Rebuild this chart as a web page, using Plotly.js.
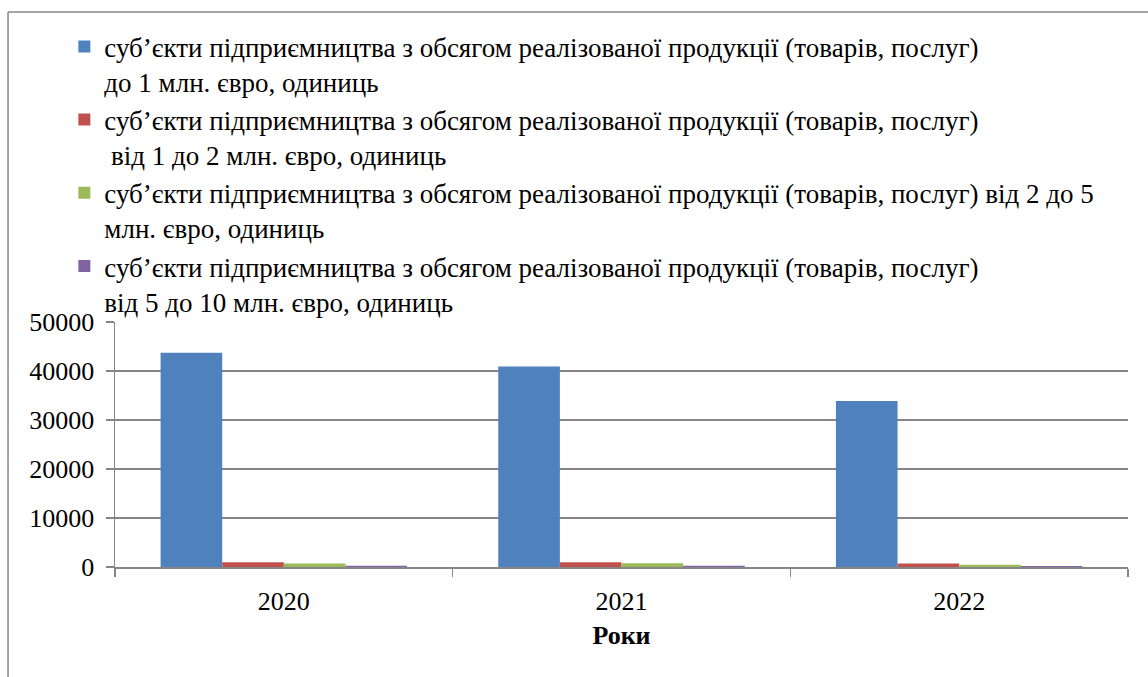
<!DOCTYPE html>
<html>
<head>
<meta charset="utf-8">
<script src="https://cdn.plot.ly/plotly-3.0.1.min.js"></script>
<style>
html,body{margin:0;padding:0;background:#fff;}
#chart{width:1148px;height:677px;}
</style>
</head>
<body>
<div id="chart"></div>
<script>
const years = ['2020', '2021', '2022'];
const seriesNames = [
  'суб’єкти підприємництва з обсягом реалізованої продукції (товарів, послуг)<br>до 1 млн. євро, одиниць',
  'суб’єкти підприємництва з обсягом реалізованої продукції (товарів, послуг)<br> від 1 до 2 млн. євро, одиниць',
  'суб’єкти підприємництва з обсягом реалізованої продукції (товарів, послуг) від 2 до 5<br>млн. євро, одиниць',
  'суб’єкти підприємництва з обсягом реалізованої продукції (товарів, послуг)<br>від 5 до 10 млн. євро, одиниць'
];
const upTo1 = [43700, 40900, 33900];
const from1to2 = [960, 980, 700];
const from2to5 = [700, 760, 480];
const from5to10 = [270, 280, 200];
const colors = ['#4F81BD', '#C0504D', '#9BBB59', '#8064A2'];
const seriesValues = [upTo1, from1to2, from2to5, from5to10];

const font = 'Liberation Serif, serif';
const fs = 26;
const traces = seriesValues.map((vals, i) => ({
  type: 'bar',
  x: years,
  y: vals,
  name: seriesNames[i],
  marker: {color: colors[i]}
}));

const layout = {
  width: 1148,
  height: 677,
  margin: {l: 115, r: 20, t: 322, b: 110},
  paper_bgcolor: '#ffffff',
  plot_bgcolor: '#ffffff',
  font: {family: font, size: fs, color: '#000'},
  barmode: 'group',
  bargap: 0.27,
  bargroupgap: 0,
  showlegend: true,
  legend: {
    x: -0.05, xanchor: 'left',
    y: 2.223, yanchor: 'top',
    bgcolor: 'rgba(0,0,0,0)',
    font: {family: font, size: 27, color: '#000'},
    tracegroupgap: 13,
    valign: 'top',
    itemwidth: 30
  },
  xaxis: {
    type: 'category',
    showline: true,
    linecolor: '#868686',
    linewidth: 1.5,
    ticks: 'outside',
    tickson: 'boundaries',
    ticklen: 8,
    tickcolor: '#868686',
    tickwidth: 1.5,
    ticklabelstandoff: 10,
    showgrid: false,
    tickfont: {family: font, size: fs, color: '#000'},
    title: {text: '<b>Роки</b>', font: {family: font, size: fs, color: '#000'}, standoff: 11}
  },
  yaxis: {
    range: [0, 50000],
    dtick: 10000,
    tickformat: 'd',
    showline: true,
    linecolor: '#868686',
    linewidth: 1.5,
    ticks: 'outside',
    ticklen: 8,
    tickcolor: '#868686',
    tickwidth: 1.5,
    ticklabelstandoff: 6,
    showgrid: true,
    gridcolor: '#868686',
    gridwidth: 1.2,
    zeroline: false,
    tickfont: {family: font, size: fs, color: '#000'}
  },
  shapes: [
    {type: 'line', xref: 'paper', yref: 'paper', x0: -0.1056, x1: -0.1056, y0: -0.46, y1: 2.265,
     line: {color: '#868686', width: 1.5}},
    {type: 'line', xref: 'paper', yref: 'paper', x0: -0.1056, x1: 1.03, y0: 2.265, y1: 2.265,
     line: {color: '#868686', width: 1.5}}
  ]
};

Plotly.newPlot('chart', traces, layout, {displayModeBar: false, staticPlot: true});
</script>
</body>
</html>
